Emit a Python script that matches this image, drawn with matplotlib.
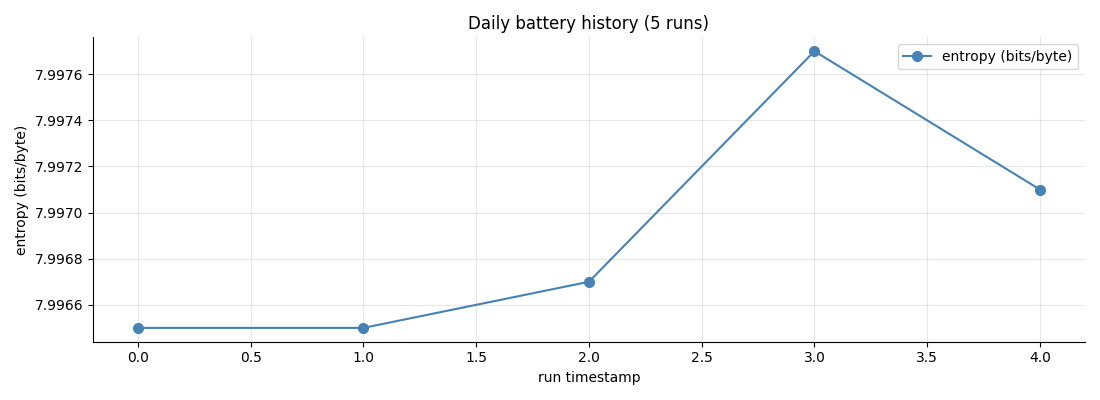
import matplotlib
matplotlib.use("Agg")
import matplotlib.pyplot as plt

# Values
runs = [0, 1, 2, 3, 4]
entropy = [7.9965, 7.9965, 7.9967, 7.9977, 7.9971]

fig, ax = plt.subplots(figsize=(11, 4), dpi=100)
ax.plot(runs, entropy, marker="o", color="steelblue", markersize=7,
        label="entropy (bits/byte)")

ax.set_title("Daily battery history (5 runs)")
ax.set_xlabel("run timestamp")
ax.set_ylabel("entropy (bits/byte)")
ax.ticklabel_format(axis="y", useOffset=False)
ax.grid(True, alpha=0.3)
ax.spines["top"].set_visible(False)
ax.spines["right"].set_visible(False)
ax.legend(loc="upper right")

fig.tight_layout()
fig.savefig("out.png")
